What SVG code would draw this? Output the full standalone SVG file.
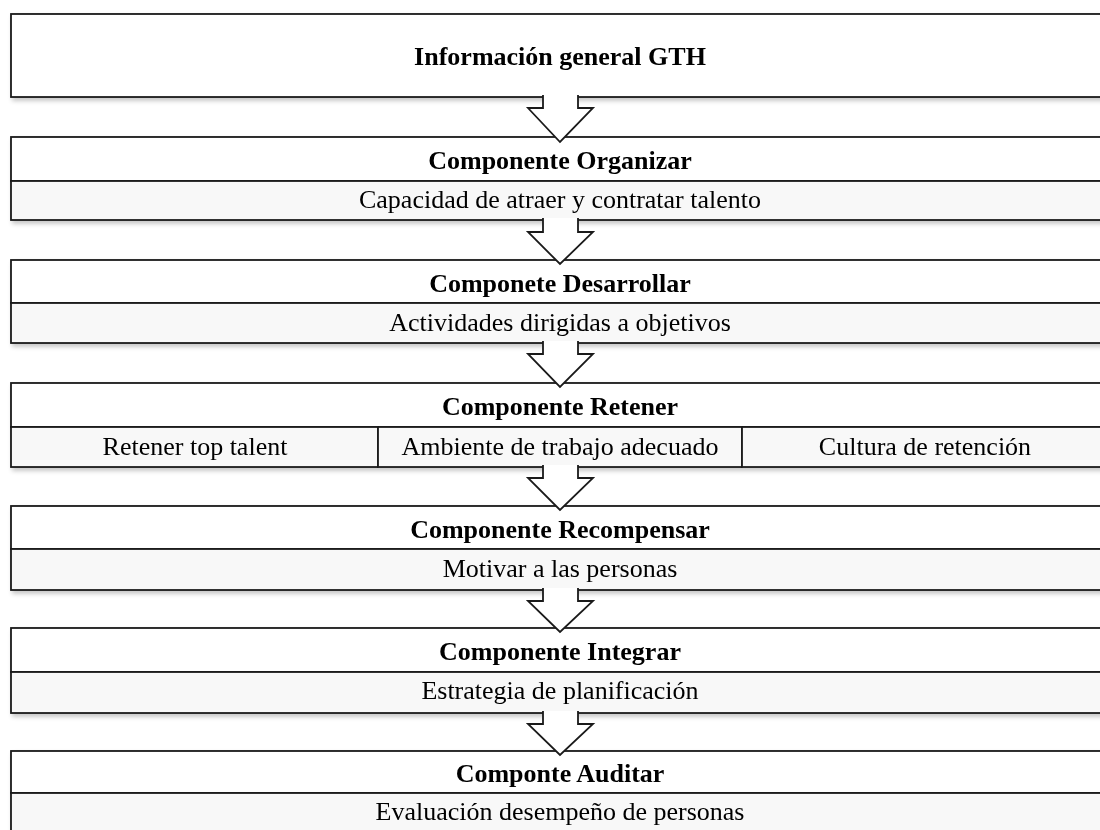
<svg xmlns="http://www.w3.org/2000/svg" width="1100" height="830" viewBox="0 0 1100 830">
<defs>
<filter id="sh" x="-5%" y="-20%" width="110%" height="150%">
<feDropShadow dx="2" dy="3" stdDeviation="2" flood-color="#000" flood-opacity="0.22"/>
</filter>
<style>
.hd{fill:#ffffff;stroke:#1a1a1a;stroke-width:1.8}
.sb{fill:#f8f8f8;stroke:#1a1a1a;stroke-width:1.8}
.t{font-family:"Liberation Serif","Times New Roman",serif;font-size:26px;text-anchor:middle;fill:#000}
.b{font-weight:bold}
.arr{fill:#ffffff;stroke:#1a1a1a;stroke-width:1.8;stroke-linejoin:miter}
</style>
</defs>
<rect width="1100" height="830" fill="#ffffff"/>

<g id="n1" filter="url(#sh)">
<rect class="hd" x="11" y="14" width="1100" height="83"/>
<text class="t b" x="560" y="65">Información general GTH</text>
</g>

<g id="n2" filter="url(#sh)">
<rect class="hd" x="11" y="137" width="1100" height="44"/>
<rect class="sb" x="11" y="181" width="1100" height="39"/>
<text class="t b" x="560" y="169">Componente Organizar</text>
<text class="t" x="560" y="208">Capacidad de atraer y contratar talento</text>
</g>

<g id="n3" filter="url(#sh)">
<rect class="hd" x="11" y="260" width="1100" height="43"/>
<rect class="sb" x="11" y="303" width="1100" height="40"/>
<text class="t b" x="560" y="292">Componete Desarrollar</text>
<text class="t" x="560" y="331">Actividades dirigidas a objetivos</text>
</g>

<g id="n4" filter="url(#sh)">
<rect class="hd" x="11" y="383" width="1100" height="44"/>
<rect class="sb" x="11" y="427" width="367" height="40"/>
<rect class="sb" x="378" y="427" width="364" height="40"/>
<rect class="sb" x="742" y="427" width="369" height="40"/>
<text class="t b" x="560" y="415">Componente Retener</text>
<text class="t" x="195" y="455">Retener top talent</text>
<text class="t" x="560" y="455">Ambiente de trabajo adecuado</text>
<text class="t" x="925" y="455">Cultura de retención</text>
</g>

<g id="n5" filter="url(#sh)">
<rect class="hd" x="11" y="506" width="1100" height="43"/>
<rect class="sb" x="11" y="549" width="1100" height="41"/>
<text class="t b" x="560" y="538">Componente Recompensar</text>
<text class="t" x="560" y="577">Motivar a las personas</text>
</g>

<g id="n6" filter="url(#sh)">
<rect class="hd" x="11" y="628" width="1100" height="44"/>
<rect class="sb" x="11" y="672" width="1100" height="41"/>
<text class="t b" x="560" y="660">Componente Integrar</text>
<text class="t" x="560" y="699">Estrategia de planificación</text>
</g>

<g id="n7" filter="url(#sh)">
<rect class="hd" x="11" y="751" width="1100" height="42"/>
<rect class="sb" x="11" y="793" width="1100" height="60"/>
<text class="t b" x="560" y="782">Componte Auditar</text>
<text class="t" x="560" y="820">Evaluación desempeño de personas</text>
</g>

<g id="connectors">
<path class="arr" d="M543,95 V108 H528 L560,142 L593,108 H578 V95"/>
<path class="arr" d="M543,218 V232 H528 L560,264 L593,232 H578 V218"/>
<path class="arr" d="M543,341 V354 H528 L560,387 L593,354 H578 V341"/>
<path class="arr" d="M543,465 V478 H528 L560,510 L593,478 H578 V465"/>
<path class="arr" d="M543,588 V601 H528 L560,632 L593,601 H578 V588"/>
<path class="arr" d="M543,711 V724 H528 L560,755 L593,724 H578 V711"/>
</g>
</svg>
